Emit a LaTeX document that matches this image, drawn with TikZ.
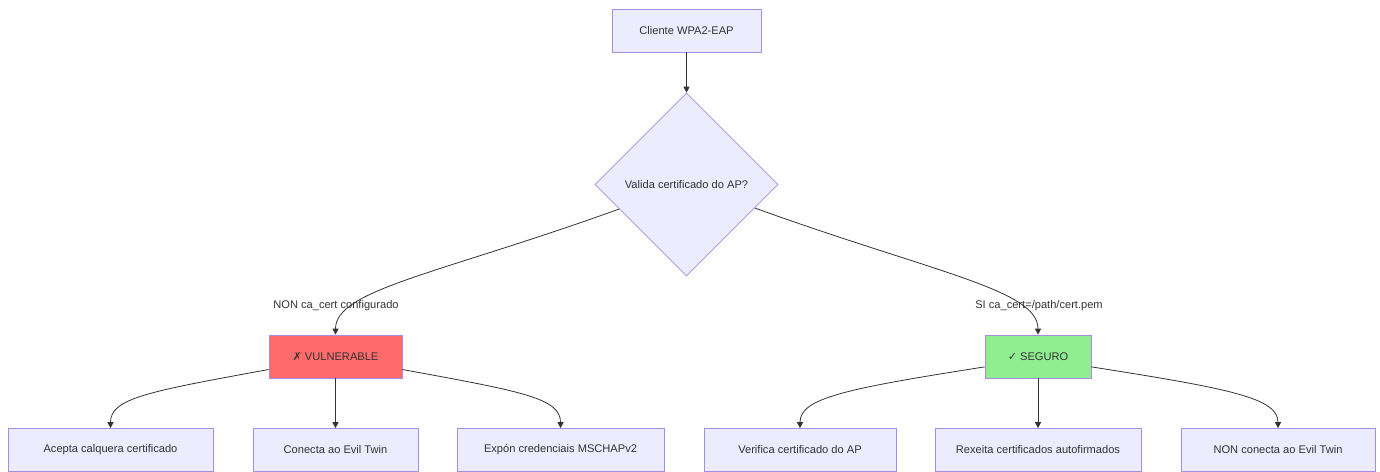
\documentclass[tikz,border=0pt]{standalone}
\usepackage{fontspec}
\setmainfont{Liberation Sans}
\newfontfamily\symfont{DejaVu Sans}
\usetikzlibrary{shapes.geometric,arrows.meta}
\definecolor{boxfill}{HTML}{ECECFF}
\definecolor{boxline}{HTML}{A98BE3}
\definecolor{ink}{HTML}{333333}
\definecolor{badfill}{HTML}{FF6B6B}
\definecolor{goodfill}{HTML}{90EE90}
\tikzset{
  every node/.style={font=\fontsize{11.1}{13}\selectfont, text=ink},
  box/.style={draw=boxline, fill=boxfill, line width=0.7pt, rectangle,
    minimum height=43pt, inner sep=0pt},
  decision/.style={draw=boxline, fill=boxfill, line width=0.7pt, diamond,
    minimum width=183pt, minimum height=183pt, inner sep=0pt},
  link/.style={draw=ink, line width=0.8pt, -{Triangle[length=6pt,width=6pt]}},
  tag/.style={inner sep=0pt}
}
\begin{document}
\begin{tikzpicture}[x=1pt,y=-1pt]
  \useasboundingbox (0,0) rectangle (1380,471);

  % top of the flow
  \node[box, minimum width=149pt] (client) at (686.5,30.5) {Cliente WPA2-EAP};
  \node[decision] (check) at (686.5,184.5) {Valida certificado do AP?};

  % outcomes
  \node[box, fill=badfill, minimum width=133pt] (vuln) at (335.5,356.5)
    {{\symfont ✗} VULNERABLE};
  \node[box, fill=goodfill, minimum width=106pt] (safe) at (1038,356.5)
    {{\symfont ✓} SEGURO};

  % consequences
  \node[box, minimum width=205pt] (v1) at (110.5,450) {Acepta calquera certificado};
  \node[box, minimum width=165pt] (v2) at (335.5,450) {Conecta ao Evil Twin};
  \node[box, minimum width=207pt] (v3) at (560.5,450) {Expón credenciais MSCHAPv2};
  \node[box, minimum width=192pt] (s1) at (800,450) {Verifica certificado do AP};
  \node[box, minimum width=206pt] (s2) at (1038,450) {Rexeita certificados autofirmados};
  \node[box, minimum width=194pt] (s3) at (1278,450) {NON conecta ao Evil Twin};

  % edge labels
  \node[tag] (lno) at (336,305.5) {NON ca\_cert configurado};
  \node[tag] (lsi) at (1039,305.5) {SI ca\_cert=/path/cert.pem};

  % connectors
  \draw[link] (client) -- (check);
  \draw[link] (check.200) .. controls +(-180,65) and +(0,-45) .. (vuln.north);
  \draw[link] (check.-19) .. controls +(180,65) and +(0,-45) .. (safe.north);

  \draw[link] (vuln.191) .. controls +(-120,22) and +(0,-30) .. (v1.north);
  \draw[link] (vuln) -- (v2);
  \draw[link] (vuln.-11) .. controls +(120,22) and +(0,-30) .. (v3.north);

  \draw[link] (safe.191) .. controls +(-140,22) and +(0,-30) .. (s1.north);
  \draw[link] (safe) -- (s2);
  \draw[link] (safe.-11) .. controls +(140,22) and +(0,-30) .. (s3.north);
\end{tikzpicture}
\end{document}
